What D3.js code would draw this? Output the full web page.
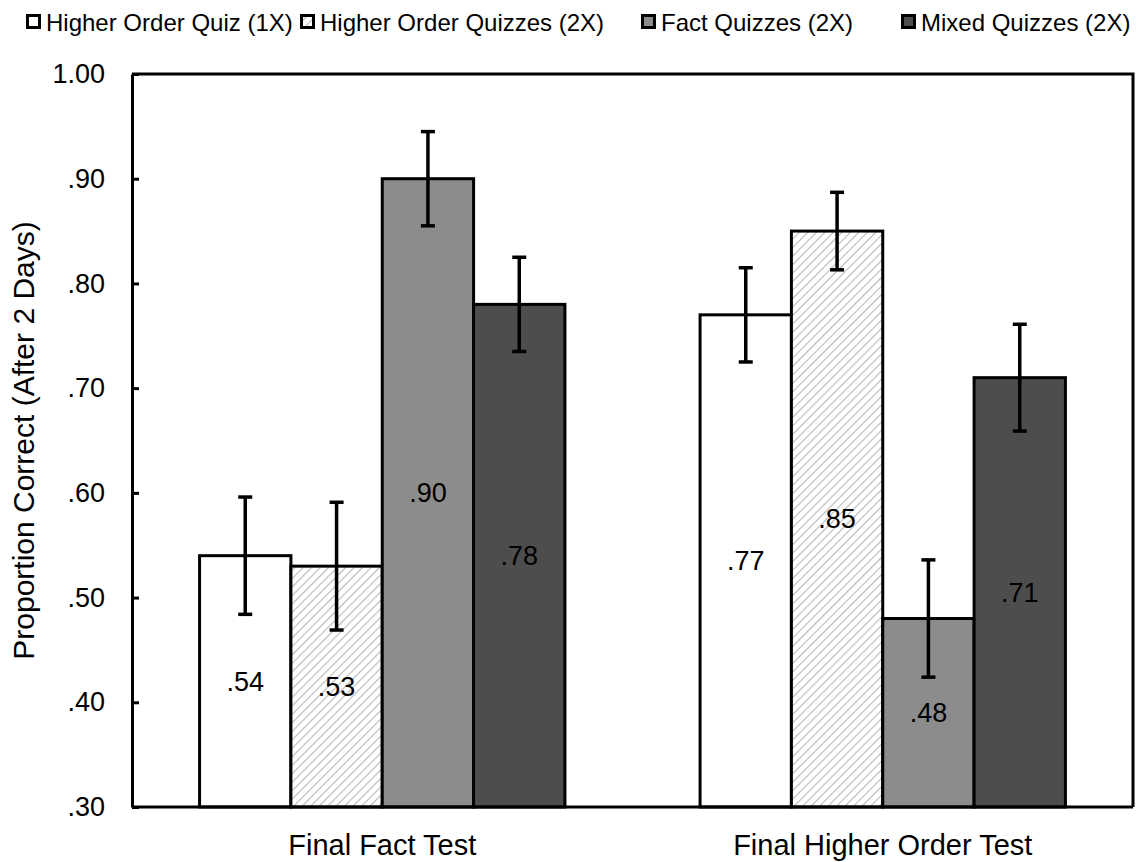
<!DOCTYPE html>
<html>
<head>
<meta charset="utf-8">
<script src="https://cdn.jsdelivr.net/npm/d3@7"></script>
<style>
    body { margin: 0; background: #fff; }
    svg text { font-family: "Liberation Sans", Arial, Helvetica, sans-serif; fill: #000; }
</style>
</head>
<body>
<div id="chart"></div>
<script>
// Data
const tests = ["Final Fact Test", "Final Higher Order Test"];
const conditions = ["Higher Order Quiz (1X)", "Higher Order Quizzes (2X)", "Fact Quizzes (2X)", "Mixed Quizzes (2X)"];
const factTest = [0.54, 0.53, 0.90, 0.78];
const higherOrderTest = [0.77, 0.85, 0.48, 0.71];
const factErr = [0.056, 0.061, 0.045, 0.045];
const higherOrderErr = [0.045, 0.037, 0.056, 0.051];
const yTicks = [0.30, 0.40, 0.50, 0.60, 0.70, 0.80, 0.90, 1.00];

const fills = ["#ffffff", "url(#hatch)", "#8c8c8c", "#4d4d4d"];

const width = 1142, height = 862;
const margin = { top: 74, right: 9, bottom: 55, left: 132 };

const svg = d3.select("#chart").append("svg")
    .attr("width", width)
    .attr("height", height);

// hatch pattern for the second series
const defs = svg.append("defs");
const hatch = defs.append("pattern")
    .attr("id", "hatch")
    .attr("patternUnits", "userSpaceOnUse")
    .attr("width", 6)
    .attr("height", 6)
    .attr("patternTransform", "rotate(45)");
hatch.append("rect").attr("width", 6).attr("height", 6).attr("fill", "#fff");
hatch.append("line")
    .attr("x1", 0).attr("y1", 0).attr("x2", 0).attr("y2", 6)
    .attr("stroke", "#b8b8b8")
    .attr("stroke-width", 2.2);

const x0 = d3.scaleBand()
    .domain(tests)
    .range([margin.left, width - margin.right])
    .paddingInner(0.27)
    .paddingOuter(0.135);

const x1 = d3.scaleBand()
    .domain(conditions)
    .range([0, x0.bandwidth()]);

const y = d3.scaleLinear()
    .domain([0.30, 1.00])
    .range([height - margin.bottom, margin.top]);

const rows = tests.map((t, i) => ({
    test: t,
    values: conditions.map((c, j) => ({
        cond: c,
        idx: j,
        value: i === 0 ? factTest[j] : higherOrderTest[j],
        err: i === 0 ? factErr[j] : higherOrderErr[j]
    }))
}));

// frame (top + right)
svg.append("path")
    .attr("d", `M${margin.left},${margin.top}H${width - margin.right}V${height - margin.bottom}`)
    .attr("fill", "none")
    .attr("stroke", "#000")
    .attr("stroke-width", 3);

const groups = svg.append("g")
    .selectAll("g")
    .data(rows)
    .join("g")
    .attr("transform", d => `translate(${x0(d.test)},0)`);

groups.selectAll("rect")
    .data(d => d.values)
    .join("rect")
    .attr("x", d => x1(d.cond))
    .attr("y", d => y(d.value))
    .attr("width", x1.bandwidth())
    .attr("height", d => y(0.30) - y(d.value))
    .attr("fill", d => fills[d.idx])
    .attr("stroke", "#000")
    .attr("stroke-width", 3);

// value labels in the middle of each bar
groups.selectAll("text.val")
    .data(d => d.values)
    .join("text")
    .attr("class", "val")
    .attr("x", d => x1(d.cond) + x1.bandwidth() / 2)
    .attr("y", d => (y(d.value) + y(0.30)) / 2)
    .attr("dy", "0.35em")
    .attr("text-anchor", "middle")
    .attr("font-size", "27px")
    .text(d => d3.format(".2f")(d.value).replace(/^0/, ""));

// error bars
const capW = 7;
const errs = groups.selectAll("g.err")
    .data(d => d.values)
    .join("g")
    .attr("class", "err")
    .attr("stroke", "#000")
    .attr("stroke-width", 3.5);
errs.append("line")
    .attr("x1", d => x1(d.cond) + x1.bandwidth() / 2)
    .attr("x2", d => x1(d.cond) + x1.bandwidth() / 2)
    .attr("y1", d => y(d.value + d.err))
    .attr("y2", d => y(d.value - d.err));
errs.append("line")
    .attr("x1", d => x1(d.cond) + x1.bandwidth() / 2 - capW)
    .attr("x2", d => x1(d.cond) + x1.bandwidth() / 2 + capW)
    .attr("y1", d => y(d.value + d.err))
    .attr("y2", d => y(d.value + d.err));
errs.append("line")
    .attr("x1", d => x1(d.cond) + x1.bandwidth() / 2 - capW)
    .attr("x2", d => x1(d.cond) + x1.bandwidth() / 2 + capW)
    .attr("y1", d => y(d.value - d.err))
    .attr("y2", d => y(d.value - d.err));

// y axis, ticks pointing inward
const yAxis = svg.append("g")
    .attr("transform", `translate(${margin.left},0)`)
    .call(d3.axisLeft(y)
        .tickValues(yTicks)
        .tickSizeInner(-7)
        .tickSizeOuter(0)
        .tickPadding(27)
        .tickFormat(d => d === 1 ? "1.00" : d3.format(".2f")(d).replace(/^0/, "")));
yAxis.select(".domain").attr("stroke-width", 3);
yAxis.selectAll(".tick line").attr("stroke-width", 3);
yAxis.selectAll(".tick text")
    .attr("font-size", "27px")
    .attr("font-family", "Liberation Sans, Arial, sans-serif");

// x axis (line + category labels, no ticks)
const xAxis = svg.append("g")
    .attr("transform", `translate(0,${height - margin.bottom})`)
    .call(d3.axisBottom(x0).tickSize(0).tickPadding(27));
xAxis.select(".domain")
    .attr("d", `M${margin.left},0H${width - margin.right}`)
    .attr("stroke-width", 3);
xAxis.selectAll(".tick text")
    .attr("font-size", "29px")
    .attr("font-family", "Liberation Sans, Arial, sans-serif");

// y axis title
svg.append("text")
    .attr("transform", `translate(34,${(margin.top + height - margin.bottom) / 2}) rotate(-90)`)
    .attr("text-anchor", "middle")
    .attr("font-size", "30px")
    .text("Proportion Correct (After 2 Days)");

// legend
const legendX = [26, 300, 641, 901];
const legend = svg.append("g")
    .selectAll("g")
    .data(conditions)
    .join("g")
    .attr("transform", (d, i) => `translate(${legendX[i]},14)`);
legend.append("rect")
    .attr("x", 1.5).attr("y", 1.5)
    .attr("width", 12).attr("height", 12)
    .attr("fill", (d, i) => fills[i])
    .attr("stroke", "#000")
    .attr("stroke-width", 3);
legend.append("text")
    .attr("x", 20)
    .attr("y", 17)
    .attr("font-size", "24px")
    .text(d => d);
</script>
</body>
</html>
